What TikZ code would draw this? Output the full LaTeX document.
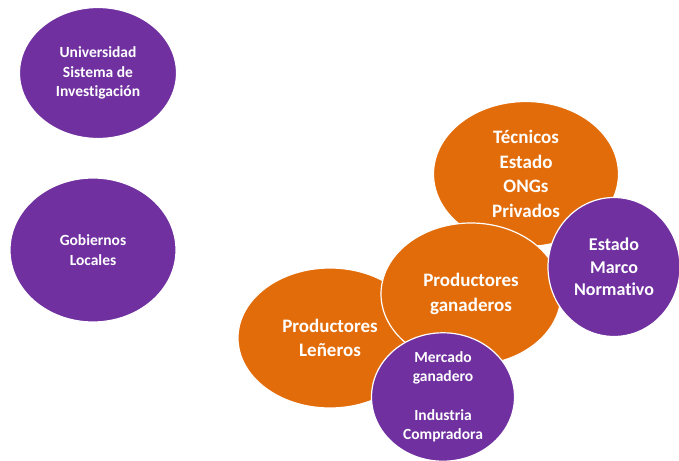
\documentclass[tikz,border=0pt]{standalone}
\usepackage{fontspec}
\setmainfont[Ligatures=NoCommon]{Carlito}
\usetikzlibrary{shapes.geometric}
\definecolor{violeta}{HTML}{7030A0}
\definecolor{naranja}{HTML}{E36C0A}

\begin{document}
\begin{tikzpicture}[x=1pt,y=-1pt,
        bubble/.style={ellipse,draw=white,line width=1.2pt,inner sep=0pt,text=white,align=center},
        morado/.style={bubble,fill=violeta},
        naranjo/.style={bubble,fill=naranja},
        chico/.style={font=\bfseries\fontsize{15.5}{19.5}\selectfont},
        grande/.style={font=\bfseries\fontsize{19}{24.5}\selectfont}]
            \useasboundingbox (0,0) rectangle (679,460);
            \node [morado,chico,minimum width=157pt,minimum height=131pt] (univ) at (98,73) {Universidad\\Sistema de\\Investigación};
            \node [morado,chico,minimum width=166pt,minimum height=144pt] (gob) at (93,250) {Gobiernos\\Locales};

            \node [naranjo,grande,minimum width=184pt,minimum height=140pt] (lena) at (330,338) {Productores\\Leñeros};
            \node [naranjo,grande,minimum width=185pt,minimum height=145pt] (tec) at (526,174) {Técnicos\\Estado\\ONGs\\Privados};
            \node [naranjo,grande,minimum width=180pt,minimum height=142pt] (gan) at (471,294) {Productores\\ganaderos};
            \node [morado,font=\bfseries\fontsize{18}{22.5}\selectfont,minimum width=132pt,minimum height=139pt] (estado) at (614,267) {Estado\\Marco\\Normativo};
            \node [morado,chico,minimum width=143pt,minimum height=123pt] (merc) at (443,397) {Mercado\\ganadero\\[19pt]Industria\\Compradora};
        \end{tikzpicture}
\end{document}
